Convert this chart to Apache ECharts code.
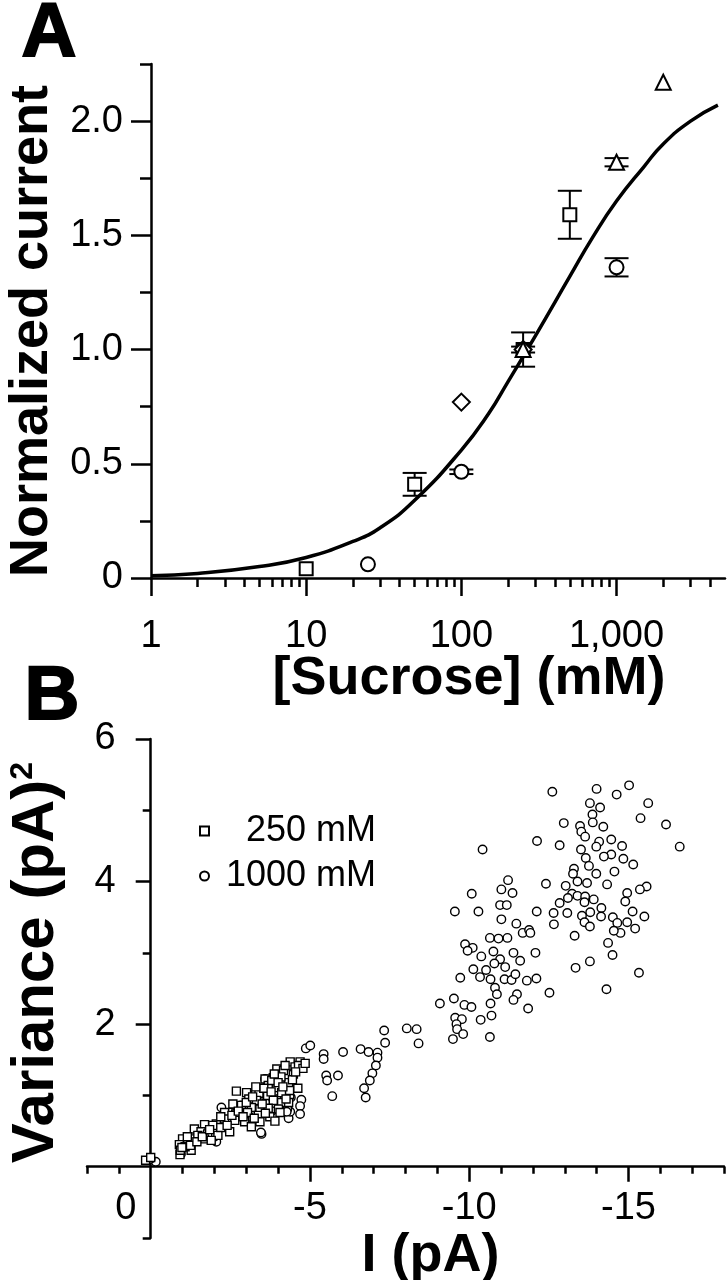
<!DOCTYPE html>
<html><head><meta charset="utf-8">
<script src="https://cdn.jsdelivr.net/npm/echarts@6/dist/echarts.min.js"></script>
<style>html,body{margin:0;padding:0;background:#fff}#c{width:728px;height:1280px}</style>
</head><body><div id="c"></div>
<script>
const FONT = '"Liberation Sans", Arial, Helvetica, sans-serif';

// ---------- Panel A data ----------
const sucroseTicks = [1, 10, 100, 1000];
const sucroseTickLabels = ['1', '10', '100', '1,000'];
const sucroseMinorTicks = [2,3,4,5,6,7,8,9,20,30,40,50,60,70,80,90,200,300,400,500,600,700,800,900,2000,3000,4000];
const currentTicks = [0, 0.5, 1.0, 1.5, 2.0];
const currentMinorTicks = [0.25, 0.75, 1.25, 1.75, 2.25];

const fitSucrose = [1, 2, 5, 10, 20, 30, 50, 100, 150, 200, 300, 500, 700, 1000, 1500, 2000, 3000, 4500];
const fitCurrent = [0.01, 0.02, 0.05, 0.09, 0.16, 0.22, 0.34, 0.56, 0.72, 0.86, 1.06, 1.32, 1.49, 1.65, 1.80, 1.90, 2.00, 2.07];

const squaresA   = [[10, 0.04], [50, 0.41], [250, 1.0], [500, 1.59]];
const circlesA   = [[25, 0.06], [100, 0.465], [250, 1.0], [1000, 1.36]];
const diamondsA  = [[100, 0.77], [250, 1.0]];
const trianglesA = [[250, 1.0], [1000, 1.82], [2000, 2.17]];
// [sucrose, low, high]
const errorBarsA = [[50, 0.36, 0.46], [100, 0.455, 0.475], [250, 0.925, 1.075], [250, 0.987, 1.013],
                    [500, 1.485, 1.695], [1000, 1.32, 1.40], [1000, 1.802, 1.838]];

// ---------- Panel B data ----------
const iRange = [-18, 2];
const varRange = [-1, 6];
const iTicks = [0, -5, -10, -15];
const iMajorTicks = [-5, -10, -15];
const iMinorTicks = [2, 1, -1, -2, -3, -4, -6, -7, -8, -9, -11, -12, -13, -14, -16, -17, -18];
const varTicks = [2, 4, 6];
const varMinorTicks = [-1, 1, 3, 5];

const sucrose250 = [
 [0.16,0.09],[0.0,0.13],[-0.92,0.17],
 [-4.38,1.47],[-4.69,1.47],[-3.96,1.37],[-4.17,1.35],[-4.48,1.30],[-4.75,1.39],[-3.59,1.23],[-3.85,1.25],
 [-4.06,1.21],[-4.33,1.18],[-3.69,1.14],[-3.96,1.11],[-2.69,1.06],[-3.01,1.04],[-3.40,1.03],[-3.67,1.00],
 [-4.11,1.04],[-4.36,1.07],[-3.08,0.95],[-3.32,0.93],[-3.85,0.93],[-4.11,0.90],[-4.33,0.90],[-2.58,0.88],
 [-2.85,0.86],[-3.16,0.83],[-3.43,0.81],[-3.69,0.82],[-4.01,0.81],[-2.32,0.76],[-2.67,0.74],[-3.04,0.76],
 [-3.38,0.72],[-3.74,0.70],[-4.06,0.76],[-2.32,0.67],[-2.64,0.65],[-2.95,0.63],[-3.16,0.56],[-3.43,0.63],
 [-3.90,0.64],[-2.06,0.60],[-1.69,0.59],[-1.95,0.58],[-1.37,0.53],[-1.58,0.49],[-1.79,0.46],[-2.11,0.44],
 [-2.48,0.49],[-1.00,0.39],[-1.16,0.32],[-1.35,0.39],[-1.48,0.44],[-0.90,0.31],[-0.93,0.23],[-1.27,0.23],
 [-1.08,0.28],[-1.69,0.39],[-1.90,0.37],[-4.22,1.42],[-4.53,1.40],[-3.80,1.21],[-4.09,1.26],[-4.64,1.42],
 [-4.78,1.38],
 [-1.25,0.30],[-1.45,0.35],[-1.62,0.42],[-1.85,0.52],[-2.20,0.55],[-2.40,0.58],[-2.55,0.72],[-2.75,0.78],
 [-2.90,0.70],[-3.00,0.90],[-3.20,0.98],[-3.25,0.68],[-3.50,0.88],[-3.55,1.10],[-3.60,0.75],[-3.78,1.05],
 [-3.88,1.30],[-4.00,1.18],[-4.15,1.12],[-4.25,0.95],[-4.45,1.22],[-4.55,1.33],[-4.62,1.10],[-3.30,1.12],
 [-2.20,0.70],[-1.15,0.42],[-0.98,0.27],[-4.85,1.45]
];

const sucrose1000 = [
 [-12.61,5.26],[-14.00,5.30],[-15.02,5.35],[-14.63,5.22],[-15.62,5.10],[-13.79,5.10],[-14.11,5.04],[-13.87,4.94],
 [-15.38,4.89],[-16.18,4.80],[-12.97,4.82],[-13.88,4.83],[-13.48,4.78],[-14.21,4.77],[-13.52,4.70],[-13.64,4.63],
 [-16.61,4.49],[-10.42,4.45],[-12.13,4.57],[-12.84,4.51],[-14.08,4.56],[-14.46,4.59],[-14.80,4.50],[-13.51,4.45],
 [-13.99,4.49],[-14.46,4.38],[-14.23,4.35],[-14.84,4.32],[-15.15,4.24],[-13.66,4.33],[-13.76,4.22],[-13.29,4.18],
 [-13.26,4.11],[-13.99,4.11],[-14.56,4.14],[-13.40,4.00],[-13.70,3.98],[-14.33,3.96],[-12.41,3.97],[-13.03,3.94],
 [-15.57,3.93],[-15.36,3.89],[-14.96,3.84],[-13.23,3.83],[-13.40,3.80],[-13.64,3.79],[-13.91,3.75],[-13.10,3.77],
 [-14.90,3.72],[-12.84,3.70],[-13.62,3.71],[-15.13,3.58],[-15.50,3.51],[-14.15,3.63],[-13.80,3.57],[-13.08,3.56],
 [-12.65,3.56],[-12.12,3.58],[-14.51,3.50],[-13.54,3.52],[-14.14,3.51],[-14.65,3.42],[-14.96,3.43],[-15.21,3.34],
 [-14.75,3.28],[-14.54,3.31],[-13.62,3.43],[-13.79,3.37],[-12.66,3.40],[-13.31,3.24],[-14.36,3.14],[-14.50,2.97],
 [-13.79,2.88],[-13.34,2.79],[-15.33,2.72],[-14.31,2.49],[-9.55,3.58],[-10.29,3.58],[-10.08,3.83],[-11.01,3.89],
 [-11.22,4.02],[-11.36,3.84],[-10.97,3.67],[-11.18,3.67],[-11.01,3.47],[-11.48,3.41],[-11.68,3.28],[-11.88,3.32],
 [-11.92,3.28],[-10.65,3.21],[-10.92,3.20],[-11.20,3.21],[-12.08,3.00],[-9.87,3.12],[-10.11,3.07],[-9.95,3.03],
 [-10.38,2.95],[-10.76,3.02],[-10.97,2.91],[-11.39,3.00],[-11.60,2.89],[-10.79,2.85],[-11.13,2.80],[-10.13,2.77],
 [-10.53,2.76],[-9.72,2.65],[-10.34,2.66],[-10.67,2.63],[-11.11,2.63],[-11.33,2.62],[-11.45,2.70],[-11.81,2.61],
 [-12.11,2.64],[-10.81,2.51],[-10.87,2.42],[-11.50,2.42],[-11.39,2.34],[-12.52,2.44],[-9.08,2.29],[-9.52,2.36],
 [-9.85,2.27],[-10.07,2.24],[-10.67,2.29],[-11.85,2.22],[-9.56,2.09],[-9.77,2.07],[-9.60,2.00],[-9.62,1.93],
 [-9.81,1.86],[-9.49,1.79],[-10.36,2.06],[-10.70,2.12],[-10.65,1.82],[-8.04,1.94],[-8.35,1.93],[-8.41,1.73],
 [-7.33,1.91],[-7.36,1.74],
 [-7.12,1.60],[-7.12,1.53],[-7.07,1.42],[-6.96,1.31],[-6.88,1.21],[-6.70,1.10],[-6.75,0.97],[-6.59,1.65],
 [-6.84,1.61],[-6.04,1.61],[-5.43,1.58],[-5.43,1.51],[-4.87,1.66],[-5.01,1.70],[-5.51,1.28],[-5.54,1.21],
 [-5.88,1.28],[-5.70,0.99],[-4.73,0.94],[-4.69,0.85],[-4.69,0.74],[-4.33,0.68],[-4.40,0.97],[-4.38,0.77],
 [-3.48,0.46],[-2.22,0.83],[-2.06,0.35],[-3.59,1.23],[-2.58,0.76],[-2.83,0.86],[-4.11,1.09],[-4.29,0.81],
 [-0.95,0.18],[-0.16,0.07],[0.0,0.11],[-4.27,0.77],[-2.51,0.76],[-3.46,0.48],[-4.36,0.98],[-3.65,1.22],
 [-3.22,0.77],[-3.53,0.91],
 [-1.20,0.35],[-1.50,0.42],[-1.80,0.50],[-2.00,0.55],[-2.30,0.63],[-2.60,0.70],[-2.90,0.72],[-3.10,0.70],
 [-3.30,0.85],[-3.60,0.90],[-3.80,0.78],[-4.00,0.95],[-4.20,1.00],[-4.40,1.10],[-3.30,1.05],[-3.70,1.15],
 [-4.00,1.30],[-2.00,0.42]
];

// ---------- chart ----------
const chart = echarts.init(document.getElementById('c'), null, {renderer: 'canvas', width: 728, height: 1280});
const LOG_MAX = Math.log10(5000);
const lineStyle = {color: '#000', width: 2.5};
const labelStyle = {color: '#000', fontSize: 38, fontFamily: FONT};
const titleStyle = {color: '#000', fontSize: 54, fontWeight: 'bold', fontFamily: FONT};
const openA = {color: '#fff', borderColor: '#000', borderWidth: 2, opacity: 1};
const openB = {color: '#fff', borderColor: '#000', borderWidth: 1.4, opacity: 1};

// grid B geometry: the axes cross at I = 0, Variance = 0 (inside the grid)
const gridB = {left: 87, right: 4, top: 739, bottom: 42};
const gridBW = 728 - gridB.left - gridB.right, gridBH = 1280 - gridB.top - gridB.bottom;
const yOffsetB = -gridBW * (iRange[1] - 0) / (iRange[1] - iRange[0]);     // move y axis to I = 0
const xOffsetB = -gridBH * (0 - varRange[0]) / (varRange[1] - varRange[0]); // move x axis to Var = 0

function errorBarItem(params, api) {
  const x = api.value(0), lo = api.value(1), hi = api.value(2);
  const a = api.coord([x, lo]), b = api.coord([x, hi]);
  const w = 12, st = {stroke: '#000', lineWidth: 2};
  return {type: 'group', children: [
    {type: 'line', shape: {x1: a[0], y1: a[1], x2: b[0], y2: b[1]}, style: st},
    {type: 'line', shape: {x1: a[0] - w, y1: a[1], x2: a[0] + w, y2: a[1]}, style: st},
    {type: 'line', shape: {x1: b[0] - w, y1: b[1], x2: b[0] + w, y2: b[1]}, style: st}
  ]};
}

const option = {
  backgroundColor: '#fff',
  animation: false,
  textStyle: {fontFamily: FONT},
  grid: [
    {left: 151, right: 3, top: 64, bottom: 702, containLabel: false, outerBoundsMode: 'none'},
    Object.assign({containLabel: false, outerBoundsMode: 'none'}, gridB)
  ],
  legend: {
    left: 194, top: 808, orient: 'vertical', itemGap: 9, itemWidth: 9, itemHeight: 9,
    data: [{name: '250 mM', icon: 'rect'}, {name: '1000 mM', icon: 'circle'}],
    formatter: '{r|{name}}',
    itemStyle: {opacity: 1},
    textStyle: {color: '#000', fontSize: 36, fontFamily: FONT,
      rich: {r: {width: 162, align: 'right', fontSize: 36, fontFamily: FONT, color: '#000'}}},
    selectedMode: false
  },
  xAxis: [
    {type: 'log', gridIndex: 0, logBase: 10, min: 1, max: 5000,
     axisLine: {show: true, onZero: false, lineStyle},
     axisTick: {show: false}, axisLabel: {show: false}, splitLine: {show: false}, minorTick: {show: false},
     name: '[Sucrose] (mM)', nameLocation: 'middle', nameGap: 74,
     nameTextStyle: Object.assign({padding: [0, 0, 0, 62]}, titleStyle)},
    {type: 'value', gridIndex: 0, min: 0, max: LOG_MAX, position: 'bottom',
     axisLine: {show: false, onZero: false},
     axisTick: {show: true, length: 18, customValues: sucroseTicks.map(v => Math.log10(v)), lineStyle},
     axisLabel: Object.assign({show: true, margin: 40, customValues: sucroseTicks.map(v => Math.log10(v)),
       formatter: v => sucroseTickLabels[Math.round(v)]}, labelStyle),
     splitLine: {show: false}},
    {type: 'value', gridIndex: 0, min: 0, max: LOG_MAX, position: 'bottom',
     axisLine: {show: false, onZero: false},
     axisTick: {show: true, length: 9, customValues: sucroseMinorTicks.map(v => Math.log10(v)), lineStyle},
     axisLabel: {show: false}, splitLine: {show: false}},
    {type: 'value', gridIndex: 1, min: iRange[0], max: iRange[1], inverse: true,
     position: 'bottom', offset: xOffsetB,
     axisLine: {show: true, onZero: false, lineStyle},
     axisTick: {show: true, length: 15, customValues: iMajorTicks, lineStyle},
     axisLabel: Object.assign({show: true, margin: 23, customValues: iTicks,
       formatter: v => v === 0 ? '{z|0}' : String(v),
       rich: {z: {padding: [0, 50, 0, 0], fontSize: 38, fontFamily: FONT, color: '#000'}}}, labelStyle),
     splitLine: {show: false},
     name: 'I (pA)', nameLocation: 'middle', nameGap: 54,
     nameTextStyle: Object.assign({padding: [0, 0, 0, 50]}, titleStyle)},
    {type: 'value', gridIndex: 1, min: iRange[0], max: iRange[1], inverse: true,
     position: 'bottom', offset: xOffsetB,
     axisLine: {show: false, onZero: false},
     axisTick: {show: true, length: 7, customValues: iMinorTicks, lineStyle},
     axisLabel: {show: false}, splitLine: {show: false}}
  ],
  yAxis: [
    {type: 'value', gridIndex: 0, min: 0, max: 2.25,
     axisLine: {show: true, onZero: false, lineStyle},
     axisTick: {show: true, length: 20, customValues: currentTicks, lineStyle},
     axisLabel: Object.assign({show: true, margin: 28, customValues: currentTicks,
       formatter: v => v === 0 ? '0' : v.toFixed(1)}, labelStyle),
     splitLine: {show: false},
     name: 'Normalized current', nameLocation: 'middle', nameRotate: 90, nameGap: 88,
     nameTextStyle: Object.assign({padding: [0, 20, 0, 0]}, titleStyle)},
    {type: 'value', gridIndex: 0, min: 0, max: 2.25, position: 'left',
     axisLine: {show: false, onZero: false},
     axisTick: {show: true, length: 11, customValues: currentMinorTicks, lineStyle},
     axisLabel: {show: false}, splitLine: {show: false}},
    {type: 'value', gridIndex: 1, min: varRange[0], max: varRange[1],
     position: 'left', offset: yOffsetB,
     axisLine: {show: true, onZero: false, lineStyle},
     axisTick: {show: true, length: 15, customValues: varTicks, lineStyle},
     axisLabel: Object.assign({show: true, margin: 35, customValues: varTicks}, labelStyle),
     splitLine: {show: false},
     name: '{t|Variance (pA)}{s|2}', nameLocation: 'middle', nameRotate: 90, nameGap: 84,
     nameTextStyle: {padding: [0, 0, 0, 52], rich: {
       t: {fontSize: 60, fontWeight: 'bold', fontFamily: FONT, color: '#000'},
       s: {fontSize: 32, fontWeight: 'bold', fontFamily: FONT, color: '#000', verticalAlign: 'top'}}}},
    {type: 'value', gridIndex: 1, min: varRange[0], max: varRange[1],
     position: 'left', offset: yOffsetB,
     axisLine: {show: false, onZero: false},
     axisTick: {show: true, length: 8, customValues: varMinorTicks, lineStyle},
     axisLabel: {show: false}, splitLine: {show: false}}
  ],
  series: [
    {type: 'line', name: 'fit', xAxisIndex: 0, yAxisIndex: 0, smooth: true, showSymbol: false, silent: true,
     data: fitSucrose.map((x, i) => [x, fitCurrent[i]]), lineStyle: {color: '#000', width: 3.5}, z: 2},
    {type: 'custom', name: 'err', xAxisIndex: 0, yAxisIndex: 0, renderItem: errorBarItem, silent: true,
     encode: {x: 0, y: [1, 2]}, data: errorBarsA, z: 3},
    {type: 'scatter', name: 'sqA', xAxisIndex: 0, yAxisIndex: 0, symbol: 'rect', symbolSize: 13, silent: true,
     itemStyle: openA, data: squaresA, z: 4},
    {type: 'scatter', name: 'ciA', xAxisIndex: 0, yAxisIndex: 0, symbol: 'circle', symbolSize: 14, silent: true,
     itemStyle: openA, data: circlesA, z: 4},
    {type: 'scatter', name: 'diA', xAxisIndex: 0, yAxisIndex: 0, symbol: 'diamond', symbolSize: 17, silent: true,
     itemStyle: openA, data: diamondsA, z: 4},
    {type: 'scatter', name: 'trA', xAxisIndex: 0, yAxisIndex: 0, symbol: 'triangle', symbolSize: 15, silent: true,
     itemStyle: openA, data: trianglesA, z: 4},
    {type: 'scatter', name: '1000 mM', xAxisIndex: 3, yAxisIndex: 2, symbol: 'circle', symbolSize: 8.5, silent: true,
     itemStyle: openB, data: sucrose1000, z: 3},
    {type: 'scatter', name: '250 mM', xAxisIndex: 3, yAxisIndex: 2, symbol: 'rect', symbolSize: 8, silent: true,
     itemStyle: openB, data: sucrose250, z: 4}
  ],
  graphic: [
    {type: 'text', x: 49, y: 35, style: {text: 'A', fill: '#000', stroke: '#000', lineWidth: 2,
      font: 'bold 76px ' + FONT, textAlign: 'center', textVerticalAlign: 'middle'}},
    {type: 'text', x: 52, y: 698, style: {text: 'B', fill: '#000', stroke: '#000', lineWidth: 2,
      font: 'bold 76px ' + FONT, textAlign: 'center', textVerticalAlign: 'middle'}}
  ]
};
chart.setOption(option);
</script>
</body></html>
